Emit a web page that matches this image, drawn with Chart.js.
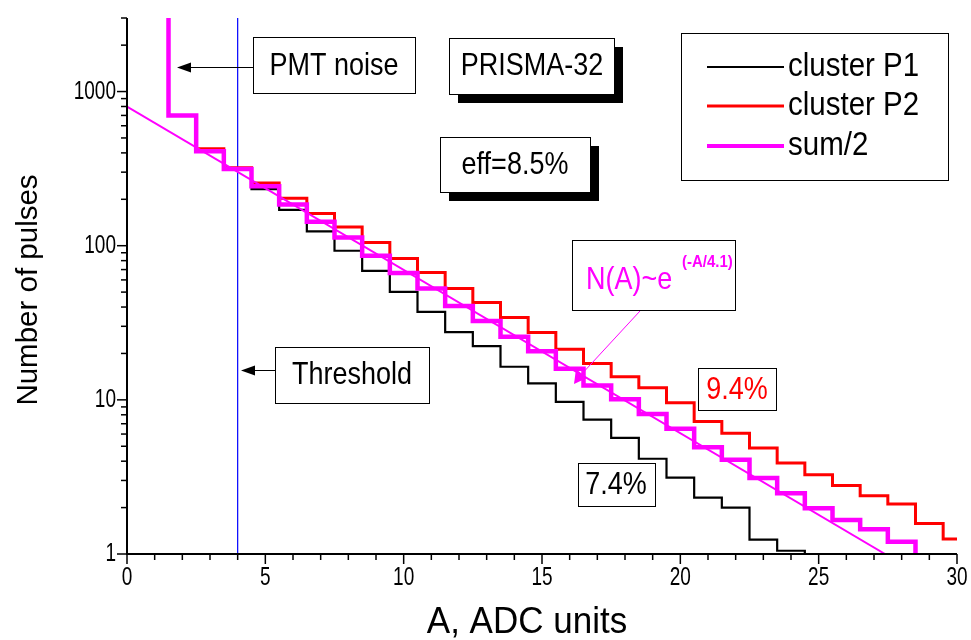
<!DOCTYPE html>
<html><head><meta charset="utf-8">
<script src="https://cdn.jsdelivr.net/npm/chart.js@4/dist/chart.umd.min.js"></script>
<style>html,body{margin:0;padding:0;background:#fff;}canvas{display:block;}</style>
</head><body>
<canvas id="c" width="971" height="640"></canvas>
<script>
// ---- data (bin centres in ADC units; each bin spans centre ±0.5) ----
const binCenters = [1,2,3,4,5,6,7,8,9,10,11,12,13,14,15,16,17,18,19,20,21,22,23,24,25,26,27,28,29,30];
const clusterP1 = [null,null,420,310,233,171,124,92.7,68.7,50.2,37.2,27.5,22.3,16.4,12.8,9.7,7.45,5.66,4.15,3.13,2.32,2.0,1.24,1.05,null,null,null,null,null,null];
const clusterP2 = [null,null,425,320,255,203,162,132,105,82.7,67.1,52.8,42.8,34.2,27.3,21.3,17.2,14.1,12.0,9.56,7.24,6.07,4.88,3.9,3.27,2.78,2.39,2.11,1.58,1.25];
const sumHalf   = [null,700,410,315,243,185,143,113,86,66.4,52.8,40.7,32.5,25.7,20.7,15.9,12.4,10.1,8.1,6.5,4.93,4.09,3.11,2.48,1.98,1.66,1.45,1.20,null,null];
const fitA = [0, 27.4];          // N(A) ~ e^(-A/4.1) drawn between these A values
const fitN = [800, 1];
const thresholdA = 4;
const xTicksMajor = [0,5,10,15,20,25,30];
const yTicksMajor = [1,10,100,1000];
const yMin = 1, yMax = 3000;

// build step outlines from the bin arrays
function steps(vals, opts) {
  const pts = [];
  let last = null, lastC = null;
  vals.forEach((v, i) => {
    if (v == null) return;
    const c = binCenters[i];
    if (!pts.length && opts.fromTop) pts.push({x: c - 0.5, y: yMax * 10});
    pts.push({x: c - 0.5, y: v});
    last = v; lastC = c;
  });
  pts.push({x: lastC + 0.5, y: last});
  if (opts.dropToAxis) pts.push({x: lastC + 0.5, y: yMin});
  return pts;
}

const common = {stepped: true, pointRadius: 0, fill: false, clip: 0, tension: 0};
const datasets = [
  {label: 'fit', data: fitA.map((a, i) => ({x: a, y: fitN[i]})), borderColor: '#ff00ff', borderWidth: 2, pointRadius: 0, clip: 0},
  Object.assign({label: 'sum/2', data: steps(sumHalf, {fromTop: true, dropToAxis: true}), borderColor: '#ff00ff', borderWidth: 4.5}, common),
  Object.assign({label: 'cluster P2', data: steps(clusterP2, {}), borderColor: '#ff0000', borderWidth: 3}, common),
  Object.assign({label: 'cluster P1', data: steps(clusterP1, {dropToAxis: true}), borderColor: '#000000', borderWidth: 2.2}, common),
  {label: 'threshold', data: [{x: thresholdA, y: yMin}, {x: thresholdA, y: yMax}], borderColor: '#0000ff', borderWidth: 1.2, pointRadius: 0, clip: 0}
];

const FONT = '"Liberation Sans", Arial, sans-serif';

function box(ctx, x1, y1, x2, y2, shadow) {
  if (shadow) { ctx.fillStyle = '#000'; ctx.fillRect(x1 + shadow, y1 + shadow, x2 - x1, y2 - y1); }
  ctx.fillStyle = '#fff'; ctx.fillRect(x1, y1, x2 - x1, y2 - y1);
  ctx.strokeStyle = '#000'; ctx.lineWidth = 1;
  ctx.strokeRect(Math.round(x1) + 0.5, Math.round(y1) + 0.5, x2 - x1, y2 - y1);
}
// text with optional vertical stretch (the original lettering is taller than wide)
function text(ctx, s, x, y, size, color, align, weight, sy) {
  sy = sy || 1;
  ctx.save();
  ctx.translate(x, y); ctx.scale(1, sy);
  ctx.font = (weight || '') + ' ' + size + 'px ' + FONT;
  ctx.fillStyle = color || '#000';
  ctx.textAlign = align || 'center';
  ctx.textBaseline = 'middle';
  ctx.fillText(s, 0, 0);
  ctx.restore();
}
function arrowLeft(ctx, x1, x2, y, color) {
  ctx.strokeStyle = color; ctx.fillStyle = color; ctx.lineWidth = 1;
  ctx.beginPath(); ctx.moveTo(x1, y + 0.5); ctx.lineTo(x2 + 12, y + 0.5); ctx.stroke();
  ctx.beginPath(); ctx.moveTo(x2, y + 0.5); ctx.lineTo(x2 + 14, y - 4.5); ctx.lineTo(x2 + 14, y + 5.5); ctx.closePath(); ctx.fill();
}

const decor = {
  id: 'decor',
  afterDraw(chart) {
    const ctx = chart.ctx, xs = chart.scales.x, ys = chart.scales.y, a = chart.chartArea;
    ctx.save();
    // axes
    ctx.strokeStyle = '#000'; ctx.lineWidth = 2;
    ctx.beginPath(); ctx.moveTo(a.left, a.top); ctx.lineTo(a.left, a.bottom); ctx.lineTo(a.right, a.bottom); ctx.stroke();
    // x ticks
    ctx.lineWidth = 1.5;
    for (let v = 0; v <= 30; v++) {
      const px = xs.getPixelForValue(v);
      const len = xTicksMajor.includes(v) ? 10 : 6;
      ctx.beginPath(); ctx.moveTo(px, a.bottom); ctx.lineTo(px, a.bottom + len); ctx.stroke();
    }
    xTicksMajor.forEach(v => text(ctx, String(v), xs.getPixelForValue(v), 578, 19, '#000', 'center', '', 1.35));
    // y ticks
    for (let d = 1; d <= 1000; d *= 10) {
      for (let m = 1; m <= 9; m++) {
        const v = d * m; if (v > yMax) break;
        const py = ys.getPixelForValue(v);
        const len = m === 1 ? 10 : 6;
        ctx.beginPath(); ctx.moveTo(a.left, py); ctx.lineTo(a.left - len, py); ctx.stroke();
      }
    }
    yTicksMajor.forEach(v => text(ctx, String(v), 116, ys.getPixelForValue(v), 19, '#000', 'right', '', 1.35));
    // axis titles
    text(ctx, 'A, ADC units', 527, 623, 35, '#000', 'center', '', 1.05);
    ctx.save(); ctx.translate(29, 290); ctx.rotate(-Math.PI / 2); text(ctx, 'Number of pulses', 0, 0, 29.5, '#000'); ctx.restore();

    // annotations
    const S = 1.15;
    box(ctx, 253, 37, 415, 93);
    text(ctx, 'PMT noise', 334, 66, 27, '#000', 'center', '', S);
    arrowLeft(ctx, 253, 177, 67, '#000');

    box(ctx, 449, 38, 614, 94, 9);
    text(ctx, 'PRISMA-32', 532, 66, 27, '#000', 'center', '', S);

    box(ctx, 440, 137, 590, 192, 9);
    text(ctx, 'eff=8.5%', 515, 165, 27, '#000', 'center', '', S);

    box(ctx, 275, 347, 429, 403);
    text(ctx, 'Threshold', 352, 375, 27, '#000', 'center', '', S);
    arrowLeft(ctx, 275, 241, 370, '#000');

    box(ctx, 572, 240, 735, 310);
    text(ctx, 'N(A)~e', 586, 280, 27, '#ff00ff', 'left', '', S);
    text(ctx, '(-A/4.1)', 682, 262, 15, '#ff00ff', 'left', 'bold', S);
    // pointer from the formula box to the fit line
    ctx.strokeStyle = '#ff00ff'; ctx.fillStyle = '#ff00ff'; ctx.lineWidth = 1;
    ctx.beginPath(); ctx.moveTo(640, 311); ctx.lineTo(579, 377); ctx.stroke();
    ctx.beginPath(); ctx.moveTo(574, 384); ctx.lineTo(576, 369); ctx.lineTo(587, 378); ctx.closePath(); ctx.fill();

    box(ctx, 698, 368, 776, 410);
    text(ctx, '9.4%', 737, 390, 27, '#ff0000', 'center', '', S);
    box(ctx, 578, 463, 655, 506);
    text(ctx, '7.4%', 616, 485, 27, '#000', 'center', '', S);

    // legend
    box(ctx, 681, 33, 948, 180);
    const leg = [['cluster P1', '#000', 2, 67], ['cluster P2', '#ff0000', 3, 106], ['sum/2', '#ff00ff', 4, 146]];
    leg.forEach(([s, c, w, y]) => {
      ctx.strokeStyle = c; ctx.lineWidth = w;
      ctx.beginPath(); ctx.moveTo(707, y); ctx.lineTo(784, y); ctx.stroke();
      text(ctx, s, 788, y, 29.5, '#000', 'left', '', S);
    });
    ctx.restore();
  }
};

new Chart(document.getElementById('c'), {
  type: 'line',
  data: {datasets},
  options: {
    responsive: false, animation: false, devicePixelRatio: 1,
    layout: {padding: {left: 0, right: 14, top: 18, bottom: 0}},
    plugins: {legend: {display: false}, tooltip: {enabled: false}},
    scales: {
      x: {type: 'linear', min: 0, max: 30, grid: {display: false}, border: {display: false}, ticks: {display: false},
          afterFit(s) { s.height = 86; }},
      y: {type: 'logarithmic', min: yMin, max: yMax, grid: {display: false}, border: {display: false}, ticks: {display: false},
          afterFit(s) { s.width = 127; }}
    }
  },
  plugins: [decor]
});
</script>
</body></html>
